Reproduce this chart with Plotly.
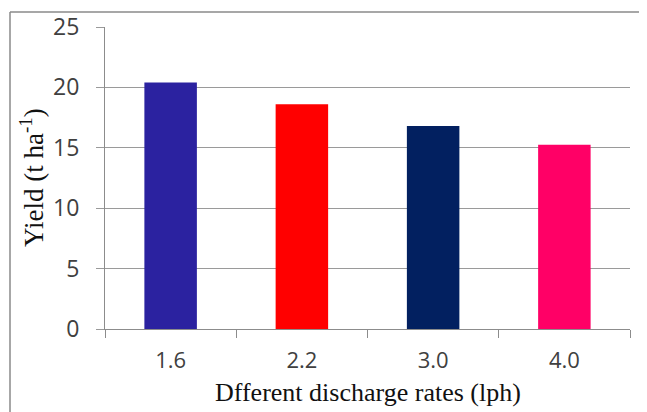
import plotly.graph_objects as go

categories = ["1.6", "2.2", "3.0", "4.0"]
yield_values = [20.4, 18.6, 16.8, 15.25]
bar_colors = ["#2B22A0", "#FF0000", "#022060", "#FF0066"]
y_ticks = [0, 5, 10, 15, 20, 25]
x_title = "Dfferent discharge rates (lph)"
y_title = "Yield (t ha<sup>-1</sup>)"

OFF = 8  # default page body margin
W, H = 647 - OFF, 412 - OFF
L, R, T, B = 105 - OFF, 17, 27 - OFF, 83
pw, ph = W - L - R, H - T - B

SANS = "'Open Sans', sans-serif"
SERIF = "'Times New Roman', 'Liberation Serif', serif"

fig = go.Figure(go.Bar(x=categories, y=yield_values, marker=dict(color=bar_colors, line=dict(width=0)), width=0.4))

fig.update_layout(
    width=W, height=H,
    margin=dict(l=L, r=R, t=T, b=B, autoexpand=False),
    paper_bgcolor="white", plot_bgcolor="white",
    showlegend=False,
    xaxis=dict(
        type="category", automargin=False,
        showline=True, linecolor="#8c8c8c", linewidth=1.2,
        ticks="outside", ticklen=8, tickcolor="#8c8c8c", tickwidth=1.2,
        tickson="boundaries",
        tickfont=dict(family=SANS, size=22, color="#404040"),
        ticklabelstandoff=11,
    ),
    yaxis=dict(
        range=[0, 25], tickvals=y_ticks, automargin=False,
        showline=True, linecolor="#8c8c8c", linewidth=1.2,
        showgrid=True, gridcolor="#9a9a9a", gridwidth=1.2,
        ticks="outside", ticklen=8, tickcolor="#9a9a9a", tickwidth=1.2,
        tickfont=dict(family=SANS, size=23, color="#404040"),
        ticklabelstandoff=12,
        zeroline=False,
    ),
)

# axis titles placed to match the reference positions
fig.add_annotation(text=x_title, xref="paper", yref="paper", x=0.5, y=(329 - 392) / ph,
                   xanchor="center", yanchor="middle", showarrow=False,
                   font=dict(family=SERIF, size=26, color="#111"))
fig.add_annotation(text=y_title, xref="paper", yref="paper", x=(32 - 105) / pw, y=0.5,
                   xanchor="center", yanchor="middle", showarrow=False, textangle=-90,
                   font=dict(family=SERIF, size=27, color="#111"))

bx0 = (10 - OFF - L) / pw
by1 = (H - B - (12 - OFF)) / ph
fig.add_shape(type="line", xref="paper", yref="paper", x0=bx0, x1=bx0, y0=-0.5, y1=by1, line=dict(color="#8a8a8a", width=1.5))
fig.add_shape(type="line", xref="paper", yref="paper", x0=bx0, x1=1.2, y0=by1, y1=by1, line=dict(color="#8a8a8a", width=1.5))

fig.write_html("out.html")
